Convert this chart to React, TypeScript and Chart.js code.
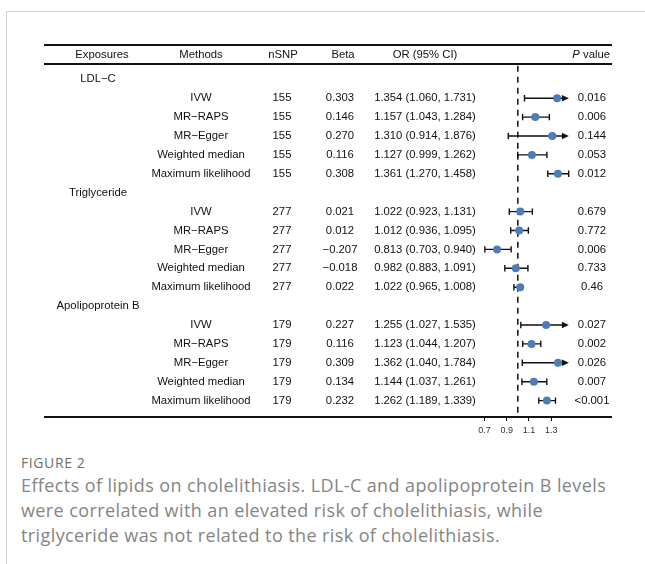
import React, { useEffect, useRef } from "react";
import { Chart, registerables } from "chart.js";

Chart.register(...registerables);

// ---------- data ----------
const EXPOSURES = ["LDL\u2212C", "Triglyceride", "Apolipoprotein B"];
const METHODS = ["IVW", "MR\u2212RAPS", "MR\u2212Egger", "Weighted median", "Maximum likelihood"];
const NSNP = [155, 277, 179];

const BETA_LDL = [0.303, 0.146, 0.27, 0.116, 0.308];
const OR_LDL = [1.354, 1.157, 1.31, 1.127, 1.361];
const LO_LDL = [1.06, 1.043, 0.914, 0.999, 1.27];
const HI_LDL = [1.731, 1.284, 1.876, 1.262, 1.458];
const P_LDL = ["0.016", "0.006", "0.144", "0.053", "0.012"];

const BETA_TG = [0.021, 0.012, -0.207, -0.018, 0.022];
const OR_TG = [1.022, 1.012, 0.813, 0.982, 1.022];
const LO_TG = [0.923, 0.936, 0.703, 0.883, 0.965];
const HI_TG = [1.131, 1.095, 0.94, 1.091, 1.008];
const P_TG = ["0.679", "0.772", "0.006", "0.733", "0.46"];

const BETA_APOB = [0.227, 0.116, 0.309, 0.134, 0.232];
const OR_APOB = [1.255, 1.123, 1.362, 1.144, 1.262];
const LO_APOB = [1.027, 1.044, 1.04, 1.037, 1.189];
const HI_APOB = [1.535, 1.207, 1.784, 1.261, 1.339];
const P_APOB = ["0.027", "0.002", "0.026", "0.007", "<0.001"];

const X_TICKS = [0.7, 0.9, 1.1, 1.3];
const X_MIN = 0.6;
const X_MAX = 1.46;
const REF_OR = 1;

const HEADERS = ["Exposures", "Methods", "nSNP", "Beta", "OR (95% CI)", "value"];

// ---------- derived table ----------
const GROUPS = [
  { beta: BETA_LDL, or: OR_LDL, lo: LO_LDL, hi: HI_LDL, p: P_LDL },
  { beta: BETA_TG, or: OR_TG, lo: LO_TG, hi: HI_TG, p: P_TG },
  { beta: BETA_APOB, or: OR_APOB, lo: LO_APOB, hi: HI_APOB, p: P_APOB },
];

type Row = { row: number; method: string; n: number; beta: number; or: number; lo: number; hi: number; p: string };
const ROWS: Row[] = [];
GROUPS.forEach((g, gi) => {
  METHODS.forEach((m, mi) => {
    ROWS.push({
      row: gi * 6 + 1 + mi,
      method: m,
      n: NSNP[gi],
      beta: g.beta[mi],
      or: g.or[mi],
      lo: g.lo[mi],
      hi: g.hi[mi],
      p: g.p[mi],
    });
  });
});

const fmt3 = (v: number) => (v < 0 ? "\u2212" + Math.abs(v).toFixed(3) : v.toFixed(3));

const FONT = "11.3px 'Liberation Sans', Arial, sans-serif";
const TXT = "#111";
const POINT = "#4d7db6";

const forestPlugin = {
  id: "forest",
  beforeDatasetsDraw(chart: any) {
    const { ctx, chartArea } = chart;
    const xs = chart.scales.x;
    const ys = chart.scales.y;
    ctx.save();
    // reference dashed line
    ctx.strokeStyle = "#111";
    ctx.lineWidth = 1.5;
    ctx.setLineDash([6, 5]);
    const xr = xs.getPixelForValue(REF_OR);
    ctx.beginPath();
    ctx.moveTo(xr, ys.getPixelForValue(-0.72));
    ctx.lineTo(xr, chartArea.bottom);
    ctx.stroke();
    ctx.setLineDash([]);
    // CI whiskers
    ctx.lineWidth = 1.4;
    ctx.fillStyle = "#111";
    ROWS.forEach((r) => {
      const y = ys.getPixelForValue(r.row);
      const x1 = xs.getPixelForValue(r.lo);
      const clipped = r.hi > X_MAX;
      const x2 = xs.getPixelForValue(clipped ? X_MAX : r.hi);
      ctx.beginPath();
      ctx.moveTo(x1, y);
      ctx.lineTo(clipped ? x2 - 4 : x2, y);
      ctx.moveTo(x1, y - 3.2);
      ctx.lineTo(x1, y + 3.2);
      if (!clipped) {
        ctx.moveTo(x2, y - 3.2);
        ctx.lineTo(x2, y + 3.2);
      }
      ctx.stroke();
      if (clipped) {
        ctx.beginPath();
        ctx.moveTo(x2, y);
        ctx.lineTo(x2 - 7, y - 3.2);
        ctx.lineTo(x2 - 7, y + 3.2);
        ctx.closePath();
        ctx.fill();
      }
    });
    ctx.restore();
  },
  afterDraw(chart: any) {
    const { ctx, chartArea } = chart;
    const ys = chart.scales.y;
    ctx.save();
    // rules
    ctx.strokeStyle = "#111";
    ctx.lineWidth = 1.8;
    const L = 44;
    const R = 612;
    const yTop = chartArea.top;
    const yHead = ys.getPixelForValue(-0.81);
    const yBot = chartArea.bottom;
    [yTop, yHead, yBot].forEach((yy) => {
      ctx.beginPath();
      ctx.moveTo(L, yy);
      ctx.lineTo(R, yy);
      ctx.stroke();
    });
    // texts
    ctx.font = FONT;
    ctx.fillStyle = TXT;
    ctx.textBaseline = "middle";
    const yh = ys.getPixelForValue(-1.3);
    ctx.textAlign = "center";
    ctx.fillText(HEADERS[0], 102, yh);
    ctx.fillText(HEADERS[1], 201, yh);
    ctx.fillText(HEADERS[2], 283, yh);
    ctx.fillText(HEADERS[3], 343, yh);
    ctx.fillText(HEADERS[4], 425, yh);
    ctx.textAlign = "right";
    ctx.fillText(HEADERS[5], 610, yh);
    const wv = ctx.measureText(" " + HEADERS[5]).width;
    ctx.font = "italic " + FONT;
    ctx.fillText("P", 610 - wv, yh);
    ctx.font = FONT;
    ctx.textAlign = "center";
    EXPOSURES.forEach((e, gi) => {
      ctx.fillText(e, 98, ys.getPixelForValue(gi * 6));
    });
    ROWS.forEach((r) => {
      const y = ys.getPixelForValue(r.row);
      ctx.fillText(r.method, 201, y);
      ctx.fillText(String(r.n), 282, y);
      ctx.fillText(fmt3(r.beta), 340, y);
      ctx.fillText(`${r.or.toFixed(3)} (${r.lo.toFixed(3)}, ${r.hi.toFixed(3)})`, 425, y);
      ctx.fillText(r.p, 592, y);
    });
    ctx.restore();
  },
};

function ForestChart() {
  const ref = useRef<HTMLCanvasElement | null>(null);
  useEffect(() => {
    if (!ref.current) return;
    const chart = new Chart(ref.current, {
      type: "scatter",
      data: {
        datasets: [
          {
            data: ROWS.map((r) => ({ x: r.or, y: r.row })),
            backgroundColor: POINT,
            borderColor: POINT,
            borderWidth: 0,
            pointRadius: 4,
            pointHoverRadius: 4,
          },
        ],
      },
      options: {
        animation: false,
        responsive: false,
        events: [],
        layout: { padding: { left: 473.4, right: 76.1, top: 45, bottom: 5.2 } },
        plugins: { legend: { display: false }, tooltip: { enabled: false } },
        scales: {
          x: {
            type: "linear",
            min: X_MIN,
            max: X_MAX,
            afterBuildTicks: (axis: any) => {
              axis.ticks = X_TICKS.map((v) => ({ value: v }));
            },
            border: { display: false },
            grid: {
              display: true,
              drawOnChartArea: false,
              drawTicks: true,
              tickLength: 4,
              color: "#111",
              lineWidth: 1,
            },
            ticks: {
              padding: 4,
              autoSkip: false,
              maxRotation: 0,
              color: "#333",
              font: { family: "'Liberation Sans', Arial, sans-serif", size: 9 },
              callback: (v: any) => Number(v).toFixed(1),
            },
          },
          y: {
            type: "linear",
            reverse: true,
            min: -1.815,
            max: 17.868,
            display: false,
          },
        },
      },
      plugins: [forestPlugin],
    } as any);
    return () => chart.destroy();
  }, []);
  return (
    <canvas
      ref={ref}
      width={645}
      height={445}
      style={{ position: "absolute", left: 0, top: 0, width: 645, height: 445 }}
    />
  );
}

export default function App() {
  return (
    <div style={{ position: "absolute", left: 0, top: 0, width: 645, height: 564, overflow: "hidden", background: "#fff" }}>
      <div
        style={{
          position: "absolute",
          left: 6,
          top: 11,
          width: 639,
          height: 553,
          borderTop: "1px solid #d4d4d4",
          borderLeft: "1px solid #d4d4d4",
          boxSizing: "border-box",
        }}
      />
      <ForestChart />
      <div
        style={{
          position: "absolute",
          left: 21,
          top: 453,
          fontFamily: "'Open Sans', sans-serif",
          fontSize: 14,
          color: "#6f6f6f",
          letterSpacing: 0.6,
        }}
      >
        FIGURE 2
      </div>
      <div
        style={{
          position: "absolute",
          left: 21,
          top: 473,
          fontFamily: "'Open Sans', sans-serif",
          fontSize: 18,
          lineHeight: "25px",
          letterSpacing: 0.4,
          color: "#858585",
          whiteSpace: "nowrap",
        }}
      >
        Effects of lipids on cholelithiasis. LDL-C and apolipoprotein B levels
        <br />
        were correlated with an elevated risk of cholelithiasis, while
        <br />
        triglyceride was not related to the risk of cholelithiasis.
      </div>
    </div>
  );
}
